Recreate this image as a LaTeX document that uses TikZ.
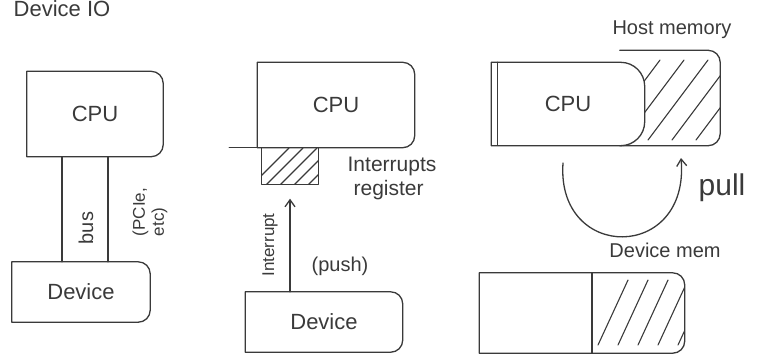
\documentclass[tikz,border=0pt]{standalone}
\usepackage{fontspec}
\setmainfont{Liberation Sans}
\usetikzlibrary{arrows.meta,backgrounds,positioning}
\definecolor{sketchInk}{HTML}{3A3A3A}

\begin{document}
\begin{tikzpicture}[
  x=1pt, y=-1pt,
  box/.style={inner sep=0pt, text=sketchInk, font=\fontsize{22}{24}\selectfont},
  ink/.style={draw=sketchInk, line width=1.3pt, line join=round, line cap=round},
  hatch/.style={draw=sketchInk, line width=1.1pt, line cap=round},
  label/.style={text=sketchInk, font=\fontsize{20}{22}\selectfont, align=left, inner sep=1pt},
  flow/.style={ink, -{Straight Barb[length=7pt, width=10pt]}}
]
  \useasboundingbox (0,0) rectangle (757,362);

  \node[label, font=\fontsize{22}{24}\selectfont] (title) at (62,9) {Device IO};

  % push model
  \node[box, minimum width=136pt, minimum height=85pt] (cpuA) at (95,114) {CPU};
  \node[box, minimum width=138pt, minimum height=60pt] (devA) at (81,292) {Device};
  \coordinate (busL) at (62,0);
  \coordinate (busR) at (108,0);
  \node[label, rotate=90] (bus) at (86,228) {bus};
  \node[label, rotate=90, font=\fontsize{17}{19}\selectfont] (pcie) at (150,212) {(PCIe,\\ etc)};

  \node[box, minimum width=157pt, minimum height=85pt] (cpuB) at (336,105) {CPU};
  \node[inner sep=0pt, minimum width=56pt, minimum height=37pt] (reg) at (290,166) {};
  \node[label, font=\fontsize{21}{24}\selectfont] (regText) at (392,178) {Interrupts\\\hspace{6pt}register};
  \node[box, minimum width=157pt, minimum height=60pt] (devB) at (324,322) {Device};
  \node[label, rotate=90, font=\fontsize{17}{19}\selectfont] (intr) at (270,245) {Interrupt};
  \node[label] (push) at (340,266) {(push)};

  % pull model
  \node[box, minimum width=153pt, minimum height=83pt] (cpuC) at (568,104) {CPU};
  \node[inner sep=0pt, minimum width=100pt, minimum height=95pt] (host) at (670,98) {};
  \node[label] (hostText) at (672,30) {Host memory};
  \node[inner sep=0pt, minimum width=205pt, minimum height=80pt] (devmem) at (582,313) {};
  \node[label] (devmemText) at (665,250) {Device mem};
  \coordinate (divX) at (592,0);
  \coordinate (arcS) at (563,163);
  \coordinate (arcE) at (681,158);
  \node[label, font=\fontsize{30}{32}\selectfont] (pull) at (722,188) {pull};

  \begin{scope}[on background layer]
    \foreach \b in {cpuA,devA,cpuB,devB,devmem} {
      \draw[ink] (\b.south west) -- (\b.north west) [rounded corners=12pt] -- (\b.north east)
        -- (\b.south east) [sharp corners] -- (\b.south west);
    }
    \draw[ink] ([xshift=-28pt]cpuB.south west) -- (cpuB.south west);
    % hatched areas
    \draw[ink] (reg.north west) rectangle (reg.south east);
    \begin{scope}
      \clip (reg.north west) rectangle (reg.south east);
      \foreach \x in {252,266,280,294,308} \draw[hatch] (\x,185) -- ++(37,-37);
    \end{scope}
    \draw[ink] (host.north west) [rounded corners=12pt] -- (host.north east) -- (host.south east)
      [sharp corners] -- (host.south west);
    \begin{scope}
      \clip (host.north west) rectangle (host.south east);
      \foreach \x in {600,624,648,672,696} \draw[hatch] (\x,140) -- ++(60,-80);
    \end{scope}
    \draw[ink, fill=white] (cpuC.south west) -- (cpuC.north west) [rounded corners=24pt]
      -- (cpuC.north east) -- (cpuC.south east) [sharp corners] -- (cpuC.south west);
    \draw[ink] (cpuC.north west) ++(6pt,0) -- ++(0,83);
    \draw[ink] (divX |- devmem.north) -- (divX |- devmem.south);
    \begin{scope}
      \clip (divX |- devmem.north) [rounded corners=12pt] -- (devmem.north east)
        -- (devmem.south east) [sharp corners] -- (divX |- devmem.south) -- cycle;
      \foreach \x in {598,618,638,658,678} \draw[hatch] (\x,345) -- ++(30,-65);
    \end{scope}
  \end{scope}

  \draw[ink] (cpuA.south -| busL) -- (devA.north -| busL);
  \draw[ink] (cpuA.south -| busR) -- (devA.north -| busR);
  \draw[flow] (devB.north -| reg) -- ([yshift=-14pt]reg.south);
  \draw[flow] (arcS) .. controls (556,262) and (690,262) .. (arcE);
\end{tikzpicture}
\end{document}
